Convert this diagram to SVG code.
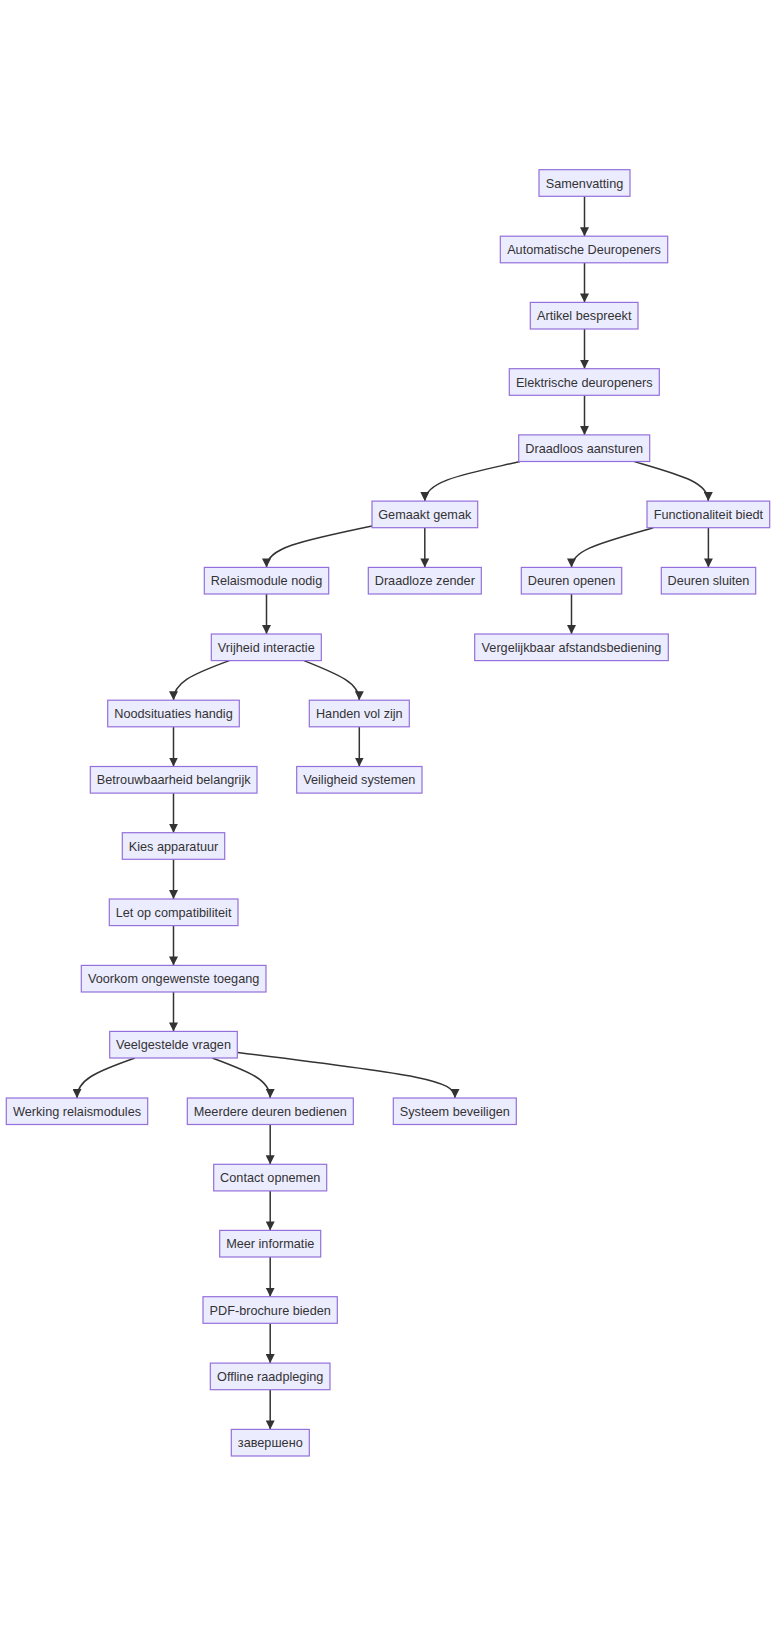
<svg xmlns="http://www.w3.org/2000/svg" width="784" height="1626" viewBox="0 0 784 1626">
<style>
.node rect{fill:#ECECFF;stroke:#9370DB;stroke-width:1.2}
.node text{font-family:"Liberation Sans",Arial,sans-serif;font-size:12.7px;fill:#333333;text-anchor:middle}
.edges path{fill:none;stroke:#333333;stroke-width:1.5}
</style>
<defs>
<marker id="arrow" markerUnits="userSpaceOnUse" markerWidth="9" markerHeight="9" viewBox="0 0 9 9" refX="9" refY="4.5" orient="auto">
<path d="M0,0 L9,4.5 L0,9 z" fill="#333333"/>
</marker>
</defs>
<rect width="784" height="1626" fill="#ffffff"/>
<g id="edges" class="edges">
<path d="M584.5,196.3 L584.5,236.3" marker-end="url(#arrow)"/>
<path d="M584.5,262.8 L584.5,302.4" marker-end="url(#arrow)"/>
<path d="M584.5,329 L584.5,368.7" marker-end="url(#arrow)"/>
<path d="M584.5,395.3 L584.5,434.9" marker-end="url(#arrow)"/>
<path d="M520,461.6 C470,473 424.8,480 424.8,501.1" marker-end="url(#arrow)"/>
<path d="M634.3,461.6 C680,475 708.3,482 708.3,501.1" marker-end="url(#arrow)"/>
<path d="M372,526 C300,541 266.5,548 266.5,567.4" marker-end="url(#arrow)"/>
<path d="M424.8,527.7 L424.8,567.4" marker-end="url(#arrow)"/>
<path d="M653.3,527.7 C600,543 571.5,550 571.5,567.4" marker-end="url(#arrow)"/>
<path d="M708.4,527.7 L708.4,567.4" marker-end="url(#arrow)"/>
<path d="M571.5,594 L571.5,634" marker-end="url(#arrow)"/>
<path d="M266.5,594 L266.5,634" marker-end="url(#arrow)"/>
<path d="M229.3,660.6 C190,675 173.5,683 173.5,700.2" marker-end="url(#arrow)"/>
<path d="M304,660.6 C340,675 359.3,683 359.3,700.2" marker-end="url(#arrow)"/>
<path d="M173.5,726.8 L173.5,766.5" marker-end="url(#arrow)"/>
<path d="M359.3,726.8 L359.3,766.5" marker-end="url(#arrow)"/>
<path d="M173.5,793.1 L173.5,832.7" marker-end="url(#arrow)"/>
<path d="M173.5,859.3 L173.5,899" marker-end="url(#arrow)"/>
<path d="M173.5,925.6 L173.5,965.4" marker-end="url(#arrow)"/>
<path d="M173.5,992 L173.5,1031.4" marker-end="url(#arrow)"/>
<path d="M135,1058 C95,1072 77,1080 77,1098" marker-end="url(#arrow)"/>
<path d="M212.3,1058 C250,1072 270.2,1080 270.2,1098" marker-end="url(#arrow)"/>
<path d="M237.7,1052.5 C420,1075 455,1080 455,1098" marker-end="url(#arrow)"/>
<path d="M270.2,1124.5 L270.2,1164.3" marker-end="url(#arrow)"/>
<path d="M270.2,1190.9 L270.2,1230.4" marker-end="url(#arrow)"/>
<path d="M270.2,1257.1 L270.2,1296.7" marker-end="url(#arrow)"/>
<path d="M270.2,1323.3 L270.2,1363.1" marker-end="url(#arrow)"/>
<path d="M270.2,1389.7 L270.2,1429.4" marker-end="url(#arrow)"/>
</g>
<g id="n-samenvatting" class="node"><rect x="539" y="169.7" width="91" height="26.6"/><text x="584.5" y="187.5">Samenvatting</text></g>
<g id="n-automatische" class="node"><rect x="500.3" y="236.2" width="167.4" height="26.6"/><text x="584" y="254">Automatische Deuropeners</text></g>
<g id="n-artikel" class="node"><rect x="530.3" y="302.4" width="107.7" height="26.6"/><text x="584.2" y="320.2">Artikel bespreekt</text></g>
<g id="n-elektrische" class="node"><rect x="509.3" y="368.7" width="150" height="26.6"/><text x="584.3" y="386.5">Elektrische deuropeners</text></g>
<g id="n-draadloos" class="node"><rect x="518.7" y="434.9" width="131" height="26.6"/><text x="584.2" y="452.7">Draadloos aansturen</text></g>
<g id="n-gemaakt" class="node"><rect x="372" y="501.1" width="105.7" height="26.6"/><text x="424.8" y="518.9">Gemaakt gemak</text></g>
<g id="n-functionaliteit" class="node"><rect x="647" y="501.1" width="122.7" height="26.6"/><text x="708.4" y="518.9">Functionaliteit biedt</text></g>
<g id="n-relaismodule" class="node"><rect x="204.3" y="567.4" width="124.4" height="26.6"/><text x="266.5" y="585.2">Relaismodule nodig</text></g>
<g id="n-zender" class="node"><rect x="368.3" y="567.4" width="113" height="26.6"/><text x="424.8" y="585.2">Draadloze zender</text></g>
<g id="n-openen" class="node"><rect x="521.3" y="567.4" width="100.4" height="26.6"/><text x="571.5" y="585.2">Deuren openen</text></g>
<g id="n-sluiten" class="node"><rect x="661.3" y="567.4" width="94.4" height="26.6"/><text x="708.5" y="585.2">Deuren sluiten</text></g>
<g id="n-vrijheid" class="node"><rect x="211.3" y="634" width="110" height="26.6"/><text x="266.3" y="651.8">Vrijheid interactie</text></g>
<g id="n-vergelijkbaar" class="node"><rect x="474.7" y="634" width="193.6" height="26.6"/><text x="571.5" y="651.8">Vergelijkbaar afstandsbediening</text></g>
<g id="n-noodsituaties" class="node"><rect x="107.7" y="700.2" width="131.6" height="26.6"/><text x="173.5" y="718">Noodsituaties handig</text></g>
<g id="n-handen" class="node"><rect x="309.3" y="700.2" width="100" height="26.6"/><text x="359.3" y="718">Handen vol zijn</text></g>
<g id="n-betrouwbaarheid" class="node"><rect x="90.3" y="766.5" width="166.7" height="26.6"/><text x="173.7" y="784.3">Betrouwbaarheid belangrijk</text></g>
<g id="n-veiligheid" class="node"><rect x="296.7" y="766.5" width="125.3" height="26.6"/><text x="359.3" y="784.3">Veiligheid systemen</text></g>
<g id="n-kies" class="node"><rect x="122.3" y="832.7" width="102.4" height="26.6"/><text x="173.5" y="850.5">Kies apparatuur</text></g>
<g id="n-letop" class="node"><rect x="109.3" y="899" width="128.7" height="26.6"/><text x="173.6" y="916.8">Let op compatibiliteit</text></g>
<g id="n-voorkom" class="node"><rect x="81.3" y="965.4" width="184.7" height="26.6"/><text x="173.6" y="983.2">Voorkom ongewenste toegang</text></g>
<g id="n-veelgestelde" class="node"><rect x="109.7" y="1031.4" width="127.6" height="26.6"/><text x="173.5" y="1049.2">Veelgestelde vragen</text></g>
<g id="n-werking" class="node"><rect x="6.3" y="1098" width="141.4" height="26.5"/><text x="77" y="1115.8">Werking relaismodules</text></g>
<g id="n-meerdere" class="node"><rect x="187.3" y="1098" width="166" height="26.5"/><text x="270.3" y="1115.8">Meerdere deuren bedienen</text></g>
<g id="n-systeem" class="node"><rect x="393.3" y="1098" width="123" height="26.5"/><text x="454.8" y="1115.8">Systeem beveiligen</text></g>
<g id="n-contact" class="node"><rect x="213.7" y="1164.3" width="113" height="26.6"/><text x="270.2" y="1182.1">Contact opnemen</text></g>
<g id="n-meer" class="node"><rect x="219.7" y="1230.4" width="101" height="26.6"/><text x="270.2" y="1248.2">Meer informatie</text></g>
<g id="n-pdf" class="node"><rect x="203" y="1296.7" width="134.3" height="26.6"/><text x="270.2" y="1314.5">PDF-brochure bieden</text></g>
<g id="n-offline" class="node"><rect x="210.3" y="1363.1" width="119.7" height="26.6"/><text x="270.2" y="1380.9">Offline raadpleging</text></g>
<g id="n-zaversheno" class="node"><rect x="231.3" y="1429.4" width="78" height="26.6"/><text x="270.3" y="1447.2">завершено</text></g>
</svg>
